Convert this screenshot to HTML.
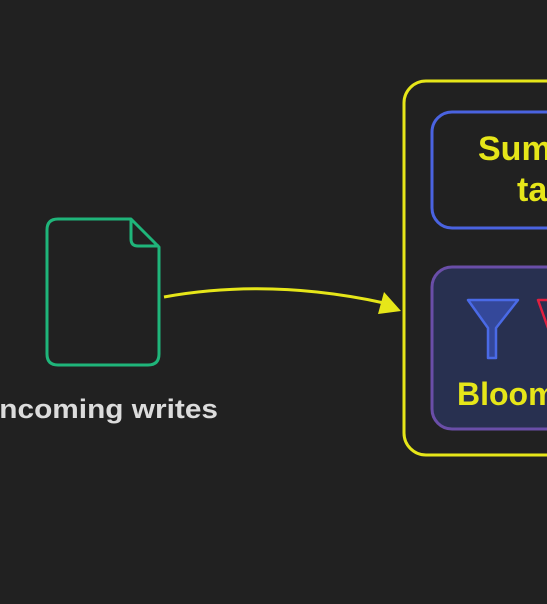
<!DOCTYPE html>
<html><head><meta charset="utf-8"><style>
html,body{margin:0;padding:0;background:#212121;width:547px;height:604px;overflow:hidden}
svg{display:block}
text{font-family:"Liberation Sans",sans-serif;font-weight:bold}
</style></head><body>
<svg width="547" height="604" viewBox="0 0 547 604">
<rect width="547" height="604" fill="#212121"/>
<!-- document -->
<path d="M58 219 H131 L159 247 V354 Q159 365 148 365 H58 Q47 365 47 354 V230 Q47 219 58 219 Z" fill="none" stroke="#1fb57a" stroke-width="3" stroke-linejoin="round"/>
<path d="M131 219 V239 Q131 246 138 246 H159" fill="none" stroke="#1fb57a" stroke-width="3" stroke-linejoin="round"/>
<text x="-9" y="418" font-size="27" fill="#dcdcdc" textLength="227" lengthAdjust="spacingAndGlyphs">Incoming writes</text>
<!-- arrow -->
<path d="M164 297 Q270 278 384 303" fill="none" stroke="#e6e619" stroke-width="3"/>
<polygon points="401,311 384,292 378,314" fill="#e6e619"/>
<!-- outer yellow -->
<rect x="404" y="81" width="180" height="374" rx="22" fill="none" stroke="#e6e619" stroke-width="3"/>
<!-- blue box -->
<rect x="432" y="112" width="160" height="116" rx="20" fill="none" stroke="#4a63e0" stroke-width="3"/>
<text x="478" y="160" font-size="34" fill="#e6e619">Sum</text>
<text x="517" y="201" font-size="34" fill="#e6e619">ta</text>
<!-- purple box -->
<rect x="432" y="267" width="160" height="162" rx="20" fill="#283050" stroke="#6a4ea8" stroke-width="3"/>
<path d="M468 300 H518 L496 328 V358 H488 V328 Z" fill="#34489a" stroke="#4a6ae6" stroke-width="2.5" stroke-linejoin="round"/>
<path d="M538 300 H560 L548 328 Z" fill="#283050" stroke="#e02040" stroke-width="2.5" stroke-linejoin="round"/>
<text x="457" y="405" font-size="32" fill="#e6e619">Bloom</text>
</svg>
</body></html>
